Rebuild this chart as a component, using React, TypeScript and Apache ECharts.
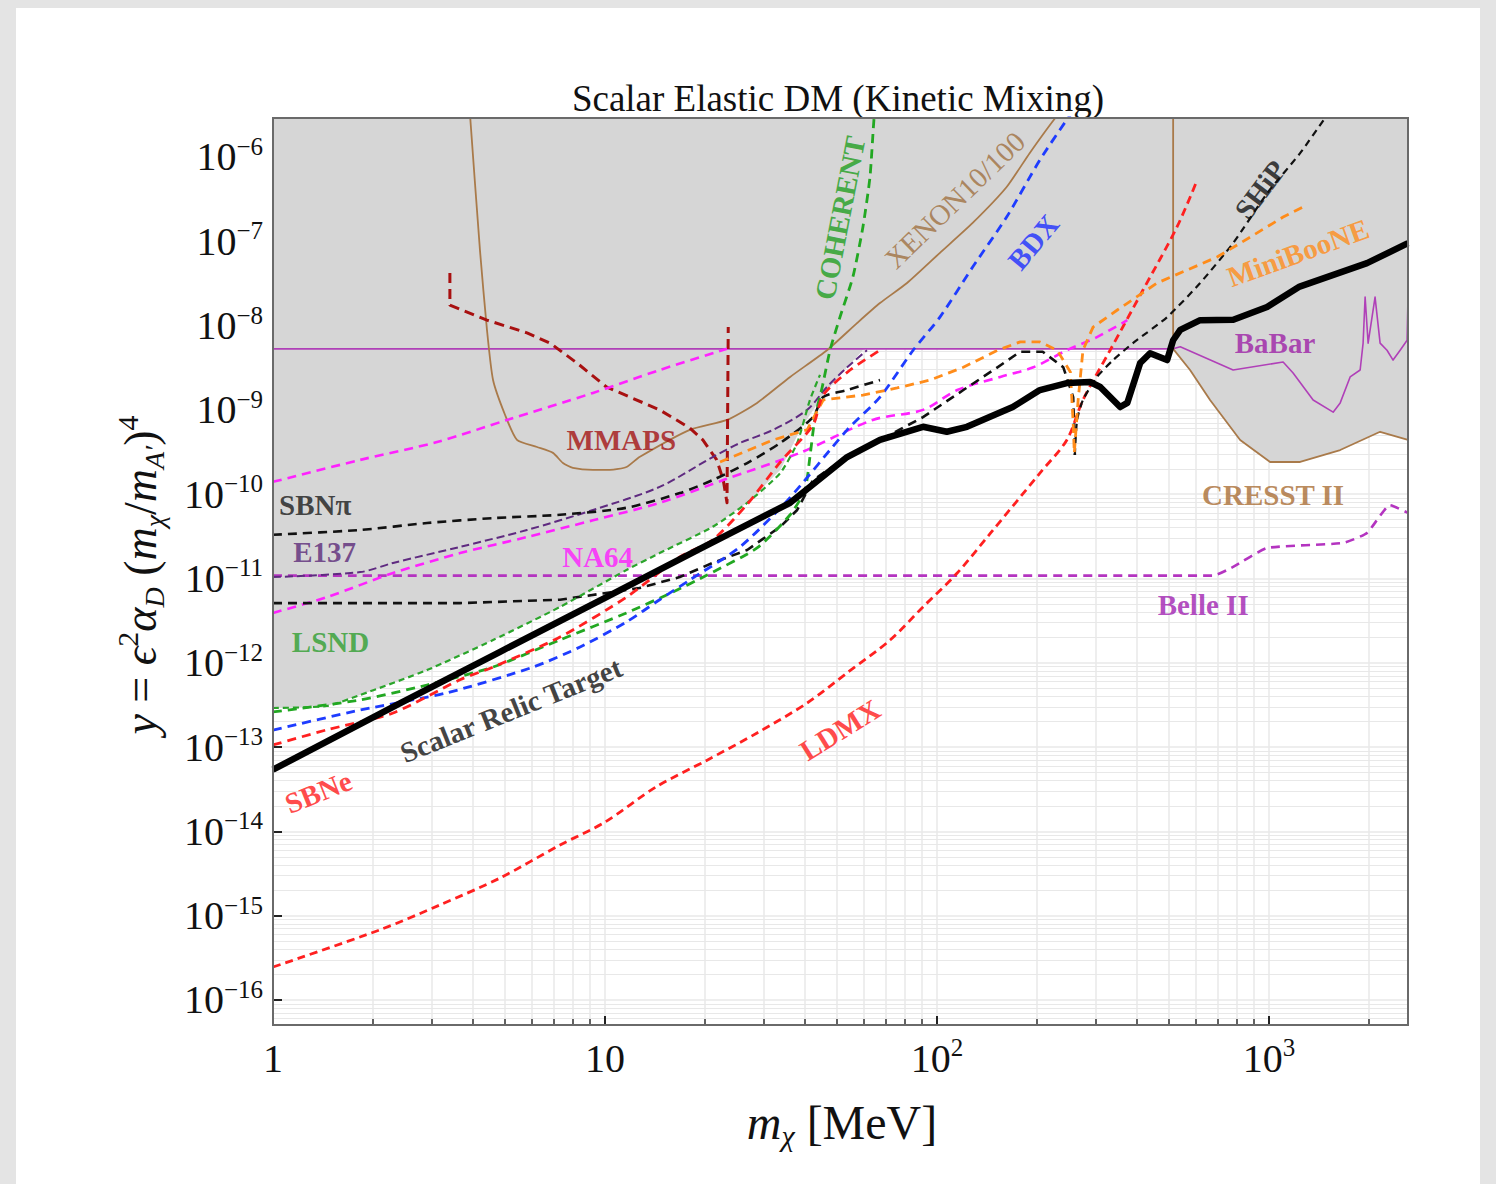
import React, { useEffect, useRef } from "react";
import * as echarts from "echarts";

type Pt = [number, number];

// Axis extents (dark-matter mass in MeV, yield variable y)
const X_MIN = 1;
const X_MAX = 2620;
const Y_MIN = 5.05e-17;
const Y_MAX = 2.9e-6;

const xDecades = [1, 10, 100, 1000];
const yDecades = [1e-16, 1e-15, 1e-14, 1e-13, 1e-12, 1e-11, 1e-10, 1e-9, 1e-8, 1e-7, 1e-6];

// Thermal relic target for scalar elastic dark matter
const relicTarget: Pt[] = [
  [1, 5.4e-14], [2.41, 3.3e-13], [4.83, 1.35e-12], [10, 5.9e-12], [19.3, 2.24e-11],
  [36.1, 7.9e-11], [53.6, 2.76e-10], [67.3, 4.4e-10], [90.7, 6.3e-10], [107, 5.5e-10],
  [123, 6.3e-10], [169, 1.08e-9], [204, 1.72e-9], [246, 2.08e-9], [289, 2.14e-9],
  [310, 1.87e-9], [356, 1.08e-9], [374, 1.21e-9], [409, 3.6e-9], [438, 4.7e-9],
  [493, 3.9e-9], [514, 6.7e-9], [540, 8.9e-9], [620, 1.16e-8], [780, 1.17e-8],
  [986, 1.66e-8], [1236, 2.9e-8], [1972, 5.5e-8], [2620, 9.5e-8],
];

// Existing limits
const babar: Pt[] = [
  [1, 5.3e-9], [514, 5.3e-9], [540, 5.6e-9], [779, 2.97e-9], [1102, 3.7e-9], [1181, 2.74e-9],
  [1357, 1.31e-9], [1559, 9.4e-10], [1637, 1.21e-9], [1754, 2.46e-9], [1880, 2.97e-9],
  [1919, 6.2e-9], [1946, 2.18e-8], [1987, 6.2e-9], [2085, 2.18e-8], [2159, 6.2e-9],
  [2265, 5.1e-9], [2362, 3.9e-9], [2481, 5.1e-9], [2604, 6.7e-9], [2620, 2.18e-8],
];

const xenon: Pt[] = [
  [3.92, 3.2e-6], [4.2, 7.9e-8], [4.41, 8.9e-9], [4.6, 2.26e-9], [5.0, 8.7e-10], [5.43, 4.4e-10],
  [6.24, 3.63e-10], [6.97, 3.09e-10], [7.47, 2.34e-10], [8.0, 2.05e-10], [9.2, 1.94e-10],
  [10.35, 1.94e-10], [11.6, 2.1e-10], [12.7, 2.76e-10], [18.0, 5.8e-10], [23.3, 7.6e-10],
  [28.7, 1.21e-9], [36.1, 2.46e-9], [46.6, 5.1e-9], [57.4, 1.07e-8], [67.3, 1.85e-8],
  [81.2, 3.2e-8], [102, 7.3e-8], [128, 1.65e-7], [162, 4.4e-7], [190, 1.11e-6], [227, 2.9e-6],
  [240, 3.6e-6],
];

const cresst: Pt[] = [
  [514, 3.2e-6], [514, 5.3e-9], [578, 2.97e-9], [664, 1.31e-9], [818, 4.4e-10], [1007, 2.41e-10],
  [1240, 2.41e-10], [1637, 3.34e-10], [2159, 5.5e-10], [2620, 4.4e-10],
];

const mmaps: Pt[] = [
  [3.41, 4.2e-8], [3.41, 1.75e-8], [4.41, 1.16e-8], [5.82, 8.2e-9], [6.83, 6.2e-9], [8.23, 3.6e-9],
  [10.1, 1.87e-9], [14.6, 1.0e-9], [18.0, 6.1e-10], [19.7, 4.4e-10], [21.7, 2.55e-10],
  [22.7, 1.47e-10], [23.3, 7.9e-11], [23.5, 9.6e-9],
];

const na64Upper: Pt[] = [
  [1, 1.4e-10], [1.83, 2.55e-10], [3.12, 4.16e-10], [5.07, 7.6e-10], [9.2, 1.59e-9],
  [14.6, 2.97e-9], [23.3, 5.3e-9],
];

const na64Lower: Pt[] = [
  [1, 3.9e-12], [1.45, 6.0e-12], [2.3, 1.16e-11], [3.66, 2.0e-11], [5.82, 3.1e-11], [9.2, 4.9e-11],
  [14.6, 7.9e-11], [22.7, 1.47e-10], [38.7, 3.1e-10], [64, 7.6e-10], [90.7, 1.0e-9],
  [115, 1.72e-9], [155, 2.46e-9], [195, 3.2e-9], [246, 5.1e-9], [303, 7.3e-9], [374, 1.16e-8],
];

const e137: Pt[] = [
  [1, 1.04e-11], [1.83, 1.19e-11], [2.3, 1.53e-11], [3.66, 2.37e-11], [5.82, 3.76e-11],
  [9.2, 6.5e-11], [14.6, 1.22e-10], [21.1, 2.76e-10], [25.5, 4.05e-10], [32.1, 5.8e-10],
  [40.6, 1.0e-9], [46.6, 1.87e-9], [53.6, 3.2e-9], [61.5, 5.1e-9],
];

const lsnd: Pt[] = [
  [1, 2.91e-13], [1.45, 3.07e-13], [1.83, 4.15e-13], [2.91, 8.2e-13], [4.6, 1.86e-12],
  [7.32, 4.6e-12], [11.6, 1.26e-11], [14.6, 2.0e-11], [21.1, 4.1e-11], [26.8, 7.9e-11],
  [33.7, 1.78e-10], [37.9, 4.05e-10], [41.4, 1.31e-9], [44.4, 2.6e-9],
];

// Projections
const sbnPi: Pt[] = [
  [1, 3.3e-11], [1.83, 3.76e-11], [2.91, 4.55e-11], [4.6, 5.2e-11], [7.32, 5.7e-11],
  [11.6, 6.9e-11], [16.8, 1.03e-10], [21.1, 1.47e-10], [26.8, 2.34e-10], [33.7, 4.05e-10],
  [42.3, 8.2e-10], [45.4, 1.42e-9], [53.6, 1.72e-9], [67.3, 2.26e-9],
];

const sbnPiLow: Pt[] = [
  [1, 5.1e-12], [3.66, 5.1e-12], [7.32, 5.6e-12], [12.7, 7.7e-12], [16.8, 1.04e-11],
  [21.1, 1.53e-11], [26.8, 2.18e-11], [33.7, 4.1e-11], [37.9, 6.5e-11], [42.3, 1.47e-10],
  [53.6, 2.76e-10], [67.3, 4.4e-10], [90.7, 8.2e-10], [120, 1.72e-9], [152, 3.2e-9],
  [178, 4.9e-9], [208, 4.9e-9], [240, 3.2e-9], [257, 1.42e-9], [260, 2.92e-10],
];

const ship: Pt[] = [
  [260, 2.92e-10], [264, 7.6e-10], [275, 1.31e-9], [303, 2.46e-9], [339, 3.9e-9], [389, 6.2e-9],
  [493, 1.26e-8], [620, 3.2e-8], [779, 9.5e-8], [986, 3.7e-7], [1240, 1.11e-6], [1475, 2.9e-6],
  [1550, 3.6e-6],
];

const bdx: Pt[] = [
  [1, 1.59e-13], [1.83, 2.75e-13], [3.34, 4.4e-13], [6.07, 8.9e-13], [8.41, 1.54e-12],
  [11.6, 3.05e-12], [14.6, 5.6e-12], [18.0, 9.6e-12], [25.5, 2.37e-11], [35.5, 8.5e-11],
  [53.6, 5.8e-10], [67.3, 1.42e-9], [84.7, 5.1e-9], [102, 1.26e-8], [128, 4.95e-8],
  [162, 1.94e-7], [204, 9.2e-7], [248, 2.9e-6], [260, 3.6e-6],
];

const coherent: Pt[] = [
  [1, 2.61e-13], [1.83, 3.62e-13], [2.91, 5.45e-13], [4.6, 8.9e-13], [7.32, 1.87e-12],
  [11.6, 3.9e-12], [16.0, 6.9e-12], [20.3, 1.1e-11], [28.7, 2.3e-11], [36.1, 5.7e-11],
  [40.0, 1.12e-10], [41.4, 2.76e-10], [42.9, 8.2e-10], [45.1, 1.87e-9], [47.6, 5.1e-9],
  [51.0, 1.26e-8], [55.8, 3.8e-8], [59.8, 1.48e-7], [62.8, 5.8e-7], [64.6, 2.9e-6], [65.5, 4e-6],
];

const sbne: Pt[] = [
  [1, 1.06e-13], [1.45, 1.6e-13], [2.3, 2.54e-13], [3.66, 6.3e-13], [4.6, 8.9e-13],
  [7.32, 2.02e-12], [11.6, 6.0e-12], [16.8, 1.8e-11], [21.1, 2.87e-11], [26.8, 7.6e-11],
  [33.7, 2.4e-10], [42.3, 6.6e-10], [45.4, 1.5e-9], [54.7, 2.97e-9], [67.3, 5.1e-9],
];

const ldmx: Pt[] = [
  [1, 2.46e-16], [2.1, 6.8e-16], [3.18, 1.34e-15], [4.83, 2.8e-15], [7.32, 6.9e-15], [10, 1.29e-14],
  [14.3, 3.4e-14], [20.3, 7.0e-14], [28.7, 1.47e-13], [40.6, 3.33e-13], [53.6, 7.6e-13],
  [72.2, 1.86e-12], [90.7, 4.6e-12], [115, 1.16e-11], [145, 3.47e-11], [204, 1.78e-10],
  [246, 4.4e-10], [275, 1.31e-9], [332, 5.1e-9], [417, 2.64e-8], [528, 1.48e-7], [607, 5.3e-7],
];

const miniboone: Pt[] = [
  [22.2, 2.41e-10], [32.1, 4.4e-10], [40.6, 5.8e-10], [45.4, 1.31e-9], [59.8, 1.5e-9],
  [75.8, 1.82e-9], [95.3, 2.26e-9], [120, 3.2e-9], [152, 5.1e-9], [178, 6.4e-9], [204, 6.4e-9],
  [230, 5.1e-9], [252, 2.82e-9], [257, 7.0e-10], [259, 3.08e-10], [266, 1.31e-9], [275, 5.1e-9],
  [295, 9.6e-9], [349, 1.53e-8], [460, 3.2e-8], [697, 6.5e-8], [877, 1.12e-7], [1102, 1.94e-7],
  [1265, 2.55e-7],
];

const belle2: Pt[] = [
  [1, 1.08e-11], [678, 1.08e-11], [779, 1.37e-11], [986, 2.3e-11], [1671, 2.64e-11],
  [1972, 3.47e-11], [2313, 7.4e-11], [2620, 6.0e-11],
];

// Lower edge of the combined excluded (shaded) region
const excludedEdge: Pt[] = [
  [1, 2.91e-13], [1.45, 3.07e-13], [1.83, 4.15e-13], [2.91, 8.2e-13], [4.6, 1.86e-12],
  [7.32, 4.6e-12], [11.6, 1.26e-11], [14.6, 2.0e-11], [21.1, 4.1e-11], [26.8, 7.9e-11],
  [33.7, 1.94e-10], [38.7, 5.8e-10], [45.4, 1.5e-9], [53.6, 3.2e-9], [60.3, 5.3e-9],
  [514, 5.3e-9], [578, 2.97e-9], [664, 1.31e-9], [818, 4.4e-10], [1007, 2.41e-10],
  [1240, 2.41e-10], [1637, 3.34e-10], [2159, 5.5e-10], [2620, 4.4e-10],
];

// Curve labels: text, anchor (mass, y), colour, angle
const curveLabels: { text: string; at: Pt; color: string; angle?: number; weight?: string }[] = [
  { text: "SBNπ", at: [1.34, 7.4e-11], color: "#1a1a1a" },
  { text: "E137", at: [1.43, 2.06e-11], color: "#5a2878" },
  { text: "LSND", at: [1.49, 1.77e-12], color: "#2f9e2f" },
  { text: "NA64", at: [9.5, 1.8e-11], color: "#ff1aff" },
  { text: "MMAPS", at: [11.2, 4.4e-10], color: "#a31212" },
  { text: "COHERENT", at: [51, 1.89e-7], color: "#1f9e1f", angle: 79 },
  { text: "XENON10/100", at: [113, 3.09e-7], color: "#a0703f", angle: 44, weight: "normal" },
  { text: "BDX", at: [195, 9.8e-8], color: "#1b2cff", angle: 50 },
  { text: "SHiP", at: [940, 4.1e-7], color: "#111111", angle: 53 },
  { text: "MiniBooNE", at: [1222, 7.3e-8], color: "#ff8c1a", angle: 20 },
  { text: "BaBar", at: [1042, 6.2e-9], color: "#9d1fa6" },
  { text: "CRESST II", at: [1028, 9.8e-11], color: "#a86c33" },
  { text: "Belle II", at: [633, 4.85e-12], color: "#a01fb0" },
  { text: "Scalar Relic Target", at: [5.21, 2.75e-13], color: "#111111", angle: 22 },
  { text: "LDMX", at: [51, 1.6e-13], color: "#ff1a1a", angle: 32 },
  { text: "SBNe", at: [1.37, 2.93e-14], color: "#ff1a1a", angle: 22 },
];

const SERIF = "'Liberation Serif', 'DejaVu Serif', serif";

function minorValues(lo: number, hi: number, e0: number, e1: number): number[] {
  const out: number[] = [];
  for (let e = e0; e <= e1; e++) {
    for (let k = 2; k <= 9; k++) {
      const v = k * Math.pow(10, e);
      if (v > lo && v < hi) out.push(v);
    }
  }
  return out;
}

const xMinor = minorValues(X_MIN, X_MAX, 0, 3);
const yMinor = minorValues(Y_MIN, Y_MAX, -17, -6);

const GRID = { left: 273, right: 88, top: 118, bottom: 159 };
const W = 1496;
const H = 1184;

function lineSeries(name: string, data: Pt[], color: string, width: number, type: any, smooth = 0, z = 5) {
  return {
    type: "line",
    name,
    data,
    showSymbol: false,
    symbol: "none",
    silent: true,
    clip: true,
    smooth: smooth || false,
    z,
    lineStyle: { color, width, type, join: "round", cap: "butt" },
  };
}

const App: React.FC = () => {
  const ref = useRef<HTMLDivElement>(null);

  useEffect(() => {
    if (!ref.current) return;
    const chart = echarts.init(ref.current, undefined, { renderer: "svg" });

    const gridColor = "#e8e8e8";
    const dash = [9, 6];

    const xFmt = (v: number) => {
      const e = Math.round(Math.log10(v));
      if (e === 0) return "{b|1}";
      if (e === 1) return "{b|10}";
      return `{b|10}{s|${e}}`;
    };
    const yFmt = (v: number) => {
      const e = Math.round(Math.log10(v));
      return `{b|10}{s|−${-e}}`;
    };
    const tickRich = {
      b: { fontSize: 40, lineHeight: 46, fontFamily: SERIF, color: "#111" },
      s: { fontSize: 25, lineHeight: 25, verticalAlign: "top", fontFamily: SERIF, color: "#111" },
    };

    const option: any = {
      animation: false,
      grid: { ...GRID, containLabel: false, outerBoundsMode: "none", show: true, backgroundColor: "#ffffff", borderWidth: 0 },
      xAxis: [
        {
          type: "log",
          logBase: 10,
          min: X_MIN,
          max: X_MAX,
          position: "bottom",
          axisLine: { show: true, onZero: false, lineStyle: { color: "#555", width: 2 } },
          axisTick: { show: true, inside: true, length: 9, customValues: xDecades, lineStyle: { color: "#222", width: 2 } },
          axisLabel: { show: true, customValues: xDecades, formatter: xFmt, rich: tickRich, margin: 10 },
          splitLine: { show: true, lineStyle: { color: gridColor, width: 1.5 } },
        },
        {
          type: "log",
          logBase: 10,
          min: X_MIN,
          max: X_MAX,
          position: "bottom",
          axisLine: { show: false },
          axisTick: { show: true, inside: true, length: 6, customValues: xMinor, lineStyle: { color: "#333", width: 1.5 } },
          axisLabel: { show: false },
          splitLine: { show: true, lineStyle: { color: gridColor, width: 1.5 } },
        },
      ],
      yAxis: [
        {
          type: "log",
          logBase: 10,
          min: Y_MIN,
          max: Y_MAX,
          position: "left",
          axisLine: { show: true, onZero: false, lineStyle: { color: "#555", width: 2 } },
          axisTick: { show: true, inside: true, length: 9, customValues: yDecades, lineStyle: { color: "#222", width: 2 } },
          axisLabel: { show: true, customValues: yDecades, formatter: yFmt, rich: tickRich, margin: 10 },
          splitLine: { show: true, lineStyle: { color: gridColor, width: 1.5 } },
        },
        {
          type: "log",
          logBase: 10,
          min: Y_MIN,
          max: Y_MAX,
          position: "left",
          axisLine: { show: false },
          axisTick: { show: false, customValues: yMinor },
          axisLabel: { show: false },
          splitLine: { show: true, lineStyle: { color: gridColor, width: 1.2 } },
        },
      ],
      series: [
        {
          type: "custom",
          name: "excluded",
          data: excludedEdge,
          encode: { x: 0, y: 1 },
          silent: true,
          clip: true,
          z: 1,
          renderItem: (params: any, api: any) => {
            if (params.dataIndex !== 0) return null;
            const pts = [
              api.coord([X_MIN, Y_MAX]),
              ...excludedEdge.map((p) => api.coord(p)),
              api.coord([X_MAX, Y_MAX]),
            ];
            return { type: "polygon", shape: { points: pts }, style: { fill: "#d6d6d6", stroke: null } };
          },
        },
        lineSeries("BaBar", babar, "#b040b8", 1.6, "solid", 0, 3),
        lineSeries("XENON10/100", xenon, "#a97a4a", 1.8, "solid", 0.2, 3),
        lineSeries("CRESST II", cresst, "#a97a4a", 1.8, "solid", 0, 3),
        lineSeries("Belle II", belle2, "#b434c0", 2.6, dash, 0.15),
        lineSeries("LDMX", ldmx, "#ff2020", 2.8, [8, 5], 0.3),
        lineSeries("MMAPS", mmaps, "#a81010", 3, [10, 6]),
        lineSeries("NA64 upper", na64Upper, "#ff22ff", 2.6, dash, 0.3),
        lineSeries("NA64", na64Lower, "#ff22ff", 2.6, dash, 0.3),
        lineSeries("E137", e137, "#5f2a80", 2, [8, 4], 0.3),
        lineSeries("SBNπ", sbnPi, "#111111", 2.6, dash, 0.25),
        lineSeries("SBNπ low", sbnPiLow, "#111111", 2.6, dash),
        lineSeries("SHiP", ship, "#111111", 2.2, [7, 5], 0.2),
        lineSeries("LSND", lsnd, "#2ba52b", 2.2, [6, 4], 0.2),
        lineSeries("COHERENT", coherent, "#22a822", 2.8, dash, 0.2),
        lineSeries("BDX", bdx, "#1e3cff", 2.8, dash, 0.25),
        lineSeries("MiniBooNE", miniboone, "#ff8c1a", 2.8, dash),
        lineSeries("SBNe", sbne, "#ff2020", 2.8, dash, 0.25),
        lineSeries("Scalar Relic Target", relicTarget, "#000000", 6.5, "solid", 0, 6),
        {
          type: "scatter",
          name: "labels",
          symbolSize: 0,
          silent: true,
          z: 10,
          data: curveLabels.map((l) => ({
            value: l.at,
            label: {
              show: true,
              formatter: l.text,
              color: l.color,
              rotate: l.angle ?? 0,
              fontWeight: l.weight ?? "bold",
            },
          })),
          label: {
            show: true,
            position: "inside",
            align: "center",
            verticalAlign: "middle",
            fontSize: 29,
            fontFamily: SERIF,
          },
        },
      ],
      graphic: [
        {
          type: "rect",
          silent: true,
          z: 100,
          shape: { x: GRID.left, y: GRID.top, width: W - GRID.left - GRID.right, height: H - GRID.top - GRID.bottom },
          style: { fill: "transparent", stroke: "#6a6a6a", lineWidth: 2 },
        },
        {
          type: "text",
          silent: true,
          x: 838,
          y: 98,
          style: {
            text: "Scalar Elastic DM (Kinetic Mixing)",
            fontSize: 37,
            fontFamily: SERIF,
            fill: "#111",
            align: "center",
            verticalAlign: "middle",
          },
        },
        {
          type: "text",
          silent: true,
          x: 842,
          y: 1122,
          style: {
            text: "{i|m}{sub|χ} [MeV]",
            fontSize: 48,
            fontFamily: SERIF,
            fill: "#111",
            align: "center",
            verticalAlign: "middle",
            lineHeight: 56,
            rich: {
              i: { fontSize: 48, fontStyle: "italic", fontFamily: SERIF, fill: "#111", lineHeight: 56 },
              sub: { fontSize: 30, fontStyle: "italic", fontFamily: SERIF, fill: "#111", verticalAlign: "bottom", lineHeight: 30 },
            },
          },
        },
        {
          type: "text",
          silent: true,
          x: 140,
          y: 575,
          rotation: Math.PI / 2,
          style: {
            text: "{i|y} = {i|ϵ}{sup|2}{i|α}{sub|D} ({i|m}{sub|χ}/{i|m}{sub|A′}){sup|4}",
            fontSize: 46,
            fontFamily: SERIF,
            fill: "#111",
            align: "center",
            verticalAlign: "middle",
            lineHeight: 56,
            rich: {
              i: { fontSize: 46, fontStyle: "italic", fontFamily: SERIF, fill: "#111", lineHeight: 56 },
              sup: { fontSize: 30, fontFamily: SERIF, fill: "#111", verticalAlign: "top", lineHeight: 30 },
              sub: { fontSize: 28, fontStyle: "italic", fontFamily: SERIF, fill: "#111", verticalAlign: "bottom", lineHeight: 28 },
            },
          },
        },
      ],
    };

    chart.setOption(option);
    return () => chart.dispose();
  }, []);

  return (
    <div style={{ position: "fixed", left: 0, top: 0, width: W, height: H, background: "#e4e4e4", overflow: "hidden" }}>
      <div style={{ position: "absolute", left: 16, top: 8, width: W - 32, height: H - 8, background: "#ffffff" }} />
      <div ref={ref} style={{ position: "absolute", left: 0, top: 0, width: W, height: H }} />
    </div>
  );
};

export default App;
